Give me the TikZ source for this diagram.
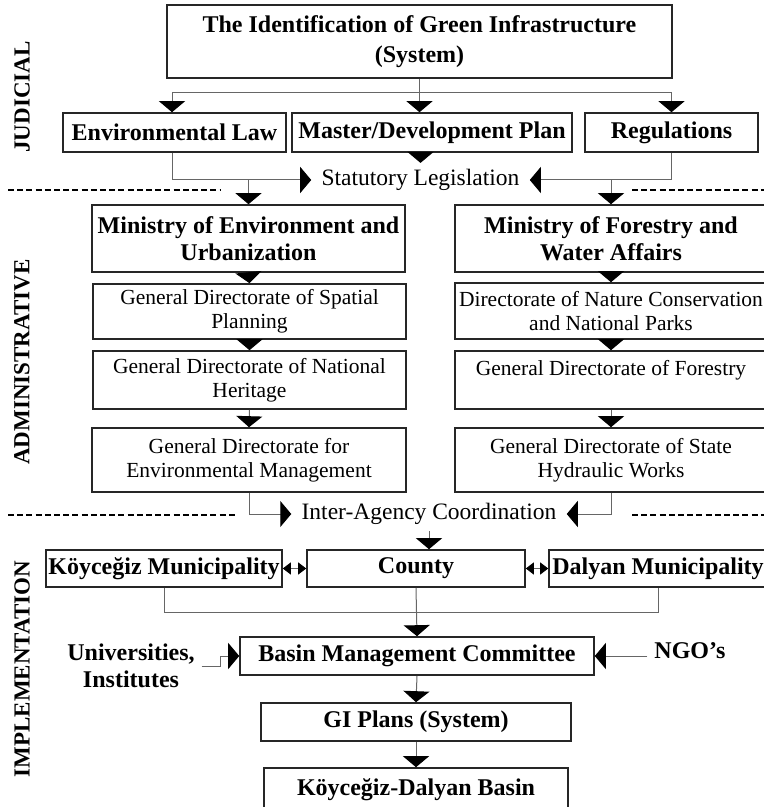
\documentclass[tikz,border=0pt]{standalone}
\usepackage{fontspec}
\setmainfont{Liberation Serif}
\usetikzlibrary{arrows.meta, positioning}
\newcommand{\gibold}{\fontsize{12}{13.5}\selectfont\bfseries}
\newcommand{\giplain}{\fontsize{10.75}{12.2}\selectfont}
\newcommand{\gilabel}{\fontsize{11.75}{13}\selectfont}
\newcommand{\giside}{\fontsize{11.5}{13}\selectfont\bfseries}

\begin{document}
\begin{tikzpicture}[x=0.5pt, y=-0.5pt,
        orgbox/.style 2 args={draw=black!85, line width=0.8pt, minimum width=#1pt,
                              minimum height=#2pt, inner sep=1pt, align=center, font=\gibold},
        dirbox/.style 2 args={orgbox={#1}{#2}, font=\giplain},
        lab/.style={font=\gilabel, inner xsep=5pt, inner ysep=3pt},
        side/.style={rotate=90, font=\giside},
        conn/.style={draw=black!60, line width=0.5pt},
        arr/.style={conn, -{Triangle[length=5.5pt, width=13pt, color=black]}},
        dbl/.style={conn, {Triangle[length=4pt, width=6pt, color=black]}-{Triangle[length=4pt, width=6pt, color=black]}},
        sep/.style={dash pattern=on 3pt off 1.6pt, line width=0.9pt}
      ]
        \clip (0,0) rectangle (764,807);
        \node[orgbox={252.5}{36.5}] (title) at (419.5,41.5) {The Identification of Green Infrastructure\\[1.5pt](System)};
        \node[orgbox={111.5}{19.5}] (envlaw) at (174.5,132.5) {Environmental Law};
        \node[orgbox={140}{19.5}]   (master) at (432,132.5)   {Master/Development Plan};
        \node[orgbox={86.5}{19.5}]  (regs)   at (671.5,132.5) {Regulations};
        \node[lab] (statutory) at (420.5,180) {Statutory Legislation};

        \node[orgbox={156.5}{33.5}] (minenv)    at (248.5,238.5) {Ministry of Environment and\\Urbanization};
        \node[orgbox={156}{33.5}]   (minfor)    at (611,238.5)   {Ministry of Forestry and\\Water Affairs};
        \node[dirbox={156.5}{27.5}] (spatial)   at (249.5,311.5) {General Directorate of Spatial\\Planning};
        \node[dirbox={156.5}{29}]   (heritage)  at (249.5,380)   {General Directorate of National\\Heritage};
        \node[dirbox={157}{32}]     (envmgmt)   at (249,460)     {General Directorate for\\Environmental Management};
        \node[dirbox={156}{28}]     (nature)    at (611,311)     {Directorate of Nature Conservation\\and National Parks};
        \node[dirbox={156}{29}]     (forestry)  at (611,380)     {General Directorate of Forestry\\\mbox{}};
        \node[dirbox={156}{32}]     (hydraulic) at (611,460)     {General Directorate of State\\Hydraulic Works};
        \node[lab] (inter) at (429,514) {Inter-Agency Coordination};

        \node[orgbox={118}{18.5}] (koy)     at (164,568.5) {Köyceğiz Municipality};
        \node[orgbox={109}{18.5}] (county)  at (416,568.5) {County};
        \node[orgbox={109}{18.5}] (dalyan)  at (658,568.5) {Dalyan Municipality};
        \node[orgbox={177}{19}]   (basin)   at (417,656)   {Basin Management Committee};
        \node[font=\gibold, align=center] (unis) at (131,666) {Universities,\\Institutes};
        \node[font=\gibold] (ngo) at (690,651) {NGO’s};
        \node[orgbox={155}{19}]   (giplans) at (416,722)   {GI Plans (System)};
        \node[orgbox={152}{22}]   (kdbasin) at (416,790)   {Köyceğiz-Dalyan Basin};

        \node[side] (judicial) at (22,97)  {JUDICIAL};
        \node[side] (admin)    at (22,362) {ADMINISTRATIVE};
        \node[side] (impl)     at (22,669) {IMPLEMENTATION};

        \draw[conn] (title.south) -- ++(0,14) coordinate (tsplit);
        \draw[arr] (tsplit) -| ([xshift=-1.25pt]envlaw.north);
        \draw[arr] (tsplit) -| (regs.north);
        \draw[arr] (tsplit) -- (tsplit |- master.north);
        \draw[arr] ([xshift=-1.25pt]envlaw.south) |- (statutory.west);
        \draw[arr] (regs.south) |- (statutory.east);
        \draw[arr] (statutory.north |- master.south) -- (statutory.north);
        \draw[arr] (minenv.north |- statutory.west) -- (minenv.north);
        \draw[arr] (minfor.north |- statutory.east) -- (minfor.north);
        \foreach \a/\b in {minenv/spatial, spatial/heritage, heritage/envmgmt,
                           minfor/nature, nature/forestry, forestry/hydraulic}
          \draw[arr] (\a.south) -- (\b.north);
        \draw[arr] (envmgmt.south) |- (inter.west);
        \draw[arr] (hydraulic.south) |- (inter.east);
        \draw[arr] (inter.south) -- (inter.south |- county.north);
        \draw[dbl] (koy) -- (county);
        \draw[dbl] (county) -- (dalyan);
        \draw[conn] (koy.south) -- ++(0,25) -| (dalyan.south);
        \draw[arr] (county.south) -- (basin.north);
        \draw[arr] (unis.east) -- ++(19,0) |- (basin.west);
        \draw[arr] (ngo.west |- basin.east) -- (basin.east);
        \draw[arr] (basin.south) -- (giplans.north);
        \draw[arr] (giplans.south) -- (kdbasin.north);

        \draw[sep] (8,190) -- (220,190);
        \draw[sep] (632,190) -- (764,190);
        \draw[sep] (8,515) -- (237,515);
        \draw[sep] (632,515) -- (764,515);
      \end{tikzpicture}
\end{document}
